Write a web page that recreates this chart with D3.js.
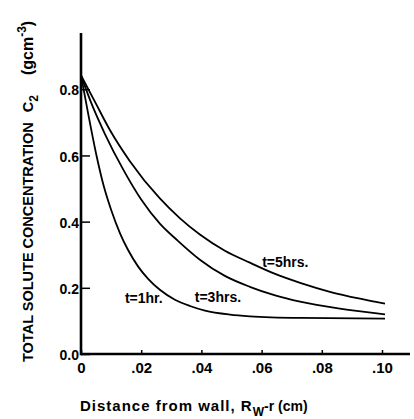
<!DOCTYPE html>
<html>
<head>
<meta charset="utf-8">
<script src="https://cdn.jsdelivr.net/npm/d3@7"></script>
<style>
  body { margin: 0; background: #fff; }
  svg text { font-family: "Liberation Sans", Arial, sans-serif; font-weight: bold; fill: #000; }
</style>
</head>
<body>
<svg></svg>
<script>
// Data
const xTicks = [0, 0.02, 0.04, 0.06, 0.08, 0.10]
const xTickLabels = ['0', '.02', '.04', '.06', '.08', '.10']
const yTicks = [0, 0.2, 0.4, 0.6, 0.8]
const yTickLabels = ['0.0', '0.2', '0.4', '0.6', '0.8']

const seriesNames = ['t=1hr.', 't=3hrs.', 't=5hrs.']

const x1 = [0, 0.0023, 0.005, 0.0076, 0.010, 0.013, 0.0156, 0.019, 0.0223, 0.0262, 0.0312, 0.0362, 0.0412, 0.0495, 0.0561, 0.0728, 0.101]
const y1 = [0.842, 0.730, 0.606, 0.506, 0.436, 0.364, 0.315, 0.264, 0.227, 0.194, 0.164, 0.145, 0.131, 0.119, 0.114, 0.109, 0.107]

const x3 = [0, 0.0033, 0.008, 0.014, 0.020, 0.0262, 0.0322, 0.0395, 0.0478, 0.0561, 0.0645, 0.0728, 0.086, 0.101]
const y3 = [0.842, 0.761, 0.664, 0.558, 0.467, 0.394, 0.342, 0.285, 0.236, 0.203, 0.177, 0.158, 0.137, 0.120]

const x5 = [0, 0.0047, 0.0096, 0.0163, 0.0262, 0.0329, 0.0395, 0.0478, 0.0561, 0.0645, 0.0728, 0.0827, 0.0927, 0.101]
const y5 = [0.842, 0.761, 0.677, 0.582, 0.470, 0.410, 0.361, 0.312, 0.276, 0.242, 0.215, 0.188, 0.167, 0.152]

const width = 414
const height = 419
const svg = d3.select('svg').attr('width', width).attr('height', height)

const xScale = d3.scaleLinear().domain([0, 0.10]).range([81, 382])
const yScale = d3.scaleLinear().domain([0, 0.97]).range([354, 33])

// axes
const xAxis = d3.axisBottom(xScale)
    .tickValues(xTicks)
    .tickFormat((d, i) => xTickLabels[i])
    .tickSize(-4)
    .tickPadding(8)
const yAxis = d3.axisLeft(yScale)
    .tickValues(yTicks)
    .tickFormat((d, i) => yTickLabels[i])
    .tickSize(-9)
    .tickPadding(2)

const gx = svg.append('g')
    .attr('transform', 'translate(0,' + yScale(0) + ')')
    .call(xAxis)
gx.select('.domain').remove()
gx.selectAll('line').attr('stroke', '#000').attr('stroke-width', 1.5)
gx.selectAll('text').style('font-size', '15px')

const gy = svg.append('g')
    .attr('transform', 'translate(' + xScale(0) + ',0)')
    .call(yAxis)
gy.select('.domain').remove()
gy.selectAll('line').attr('stroke', '#000').attr('stroke-width', 1.5)
gy.selectAll('text').style('font-size', '14px').attr('dy', '0.4em')

// axis lines
svg.append('line')
    .attr('x1', xScale(0)).attr('x2', xScale(0.1093))
    .attr('y1', yScale(0)).attr('y2', yScale(0))
    .attr('stroke', '#000').attr('stroke-width', 2.6)
svg.append('line')
    .attr('x1', xScale(0)).attr('x2', xScale(0))
    .attr('y1', yScale(0) + 1.3).attr('y2', yScale(0.97))
    .attr('stroke', '#000').attr('stroke-width', 2.6)

// curves
const line = d3.line()
    .x(d => xScale(d[0]))
    .y(d => yScale(d[1]))
    .curve(d3.curveMonotoneX)

const series = [d3.zip(x1, y1), d3.zip(x3, y3), d3.zip(x5, y5)]
svg.selectAll('path.curve')
    .data(series)
    .enter()
    .append('path')
    .attr('class', 'curve')
    .attr('d', line)
    .attr('fill', 'none')
    .attr('stroke', '#000')
    .attr('stroke-width', 1.8)

// curve labels
const labelAt = [[0.0146, 0.155], [0.0378, 0.158], [0.0602, 0.262]]
svg.selectAll('text.lab')
    .data(seriesNames)
    .enter()
    .append('text')
    .attr('class', 'lab')
    .attr('x', (d, i) => xScale(labelAt[i][0]))
    .attr('y', (d, i) => yScale(labelAt[i][1]))
    .style('font-size', '14px')
    .text(d => d)

// axis titles
const xt = svg.append('text')
    .attr('x', 80)
    .attr('y', 411)
    .style('font-size', '15px')
xt.append('tspan').style('letter-spacing', '1px').text('Distance from wall, R')
xt.append('tspan').attr('dy', 5).style('font-size', '12px').text('W')
xt.append('tspan').attr('dy', -5).style('font-size', '14px').text('-r (cm)')

const yt = svg.append('text')
    .attr('transform', 'translate(33,362) rotate(-90)')
    .style('font-size', '14.5px')
yt.append('tspan').text('TOTAL SOLUTE CONCENTRATION')
yt.append('tspan').attr('dx', 10).text('C')
yt.append('tspan').attr('dy', 5).style('font-size', '12px').text('2')
yt.append('tspan').attr('dy', -5).attr('dx', 20).style('font-size', '16px').text('(gcm')
yt.append('tspan').attr('dy', -7).style('font-size', '12px').text('-3')
yt.append('tspan').attr('dy', 7).style('font-size', '16px').text(')')
</script>
</body>
</html>
